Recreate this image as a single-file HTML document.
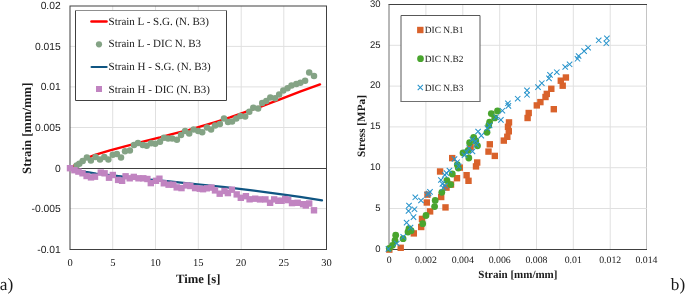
<!DOCTYPE html>
<html><head><meta charset="utf-8"><title>Strain charts</title>
<style>
html,body{margin:0;padding:0;background:#fff;width:685px;height:294px;overflow:hidden;}
svg{display:block;font-family:"Liberation Serif",serif;will-change:transform;text-rendering:geometricPrecision;}
</style></head><body>
<svg width="685" height="294" viewBox="0 0 685 294">
<rect width="685" height="294" fill="#ffffff"/>
<line x1="112.70" y1="6.0" x2="112.70" y2="249.5" stroke="#e0e0e0" stroke-width="1"/>
<line x1="155.50" y1="6.0" x2="155.50" y2="249.5" stroke="#e0e0e0" stroke-width="1"/>
<line x1="198.30" y1="6.0" x2="198.30" y2="249.5" stroke="#e0e0e0" stroke-width="1"/>
<line x1="241.20" y1="6.0" x2="241.20" y2="249.5" stroke="#e0e0e0" stroke-width="1"/>
<line x1="283.80" y1="6.0" x2="283.80" y2="249.5" stroke="#e0e0e0" stroke-width="1"/>
<line x1="70.0" y1="46.40" x2="326.5" y2="46.40" stroke="#e0e0e0" stroke-width="1"/>
<line x1="70.0" y1="86.90" x2="326.5" y2="86.90" stroke="#e0e0e0" stroke-width="1"/>
<line x1="70.0" y1="127.50" x2="326.5" y2="127.50" stroke="#e0e0e0" stroke-width="1"/>
<line x1="70.0" y1="208.60" x2="326.5" y2="208.60" stroke="#e0e0e0" stroke-width="1"/>
<line x1="70.0" y1="168.5" x2="326.5" y2="168.5" stroke="#404040" stroke-width="1"/>
<rect x="70.0" y="6.0" width="256.5" height="243.5" fill="none" stroke="#404040" stroke-width="1"/>
<polyline points="70.0,168.0 72.0,166.9 75.0,165.0 80.0,162.0 85.0,159.2 90.0,156.8 95.0,155.0 100.0,153.4 110.0,150.4 125.0,146.3 145.0,141.1 160.0,137.4 171.0,134.3 189.0,129.8 200.0,126.7 217.0,121.6 230.0,117.4 240.0,113.8 250.0,110.4 261.0,106.5 270.0,103.2 280.0,99.3 300.0,91.7 320.0,84.4" fill="none" stroke="#ff0000" stroke-width="2.4" stroke-linecap="round" stroke-linejoin="round"/>
<polyline points="70.0,168.5 75.0,169.6 80.0,170.7 86.0,171.9 96.0,173.5 110.0,175.1 123.0,176.6 150.0,179.6 167.0,181.2 181.0,182.6 200.0,184.5 225.0,187.2 250.0,190.2 280.0,194.1 300.0,196.9 322.0,200.4" fill="none" stroke="#0f5582" stroke-width="2.2" stroke-linecap="round" stroke-linejoin="round"/>
<circle cx="76.6" cy="165.5" r="3.25" fill="#84a385"/>
<circle cx="79.3" cy="163.7" r="3.25" fill="#84a385"/>
<circle cx="82.7" cy="161.1" r="3.25" fill="#84a385"/>
<circle cx="86.9" cy="157.5" r="3.25" fill="#84a385"/>
<circle cx="90.9" cy="160.5" r="3.25" fill="#84a385"/>
<circle cx="95.6" cy="157.1" r="3.25" fill="#84a385"/>
<circle cx="100.0" cy="159.5" r="3.25" fill="#84a385"/>
<circle cx="104.3" cy="156.9" r="3.25" fill="#84a385"/>
<circle cx="108.4" cy="159.4" r="3.25" fill="#84a385"/>
<circle cx="112.8" cy="154.7" r="3.25" fill="#84a385"/>
<circle cx="116.9" cy="153.9" r="3.25" fill="#84a385"/>
<circle cx="121.0" cy="157.4" r="3.25" fill="#84a385"/>
<circle cx="125.0" cy="151.3" r="3.25" fill="#84a385"/>
<circle cx="129.9" cy="150.4" r="3.25" fill="#84a385"/>
<circle cx="134.0" cy="145.0" r="3.25" fill="#84a385"/>
<circle cx="138.0" cy="143.0" r="3.25" fill="#84a385"/>
<circle cx="142.8" cy="145.0" r="3.25" fill="#84a385"/>
<circle cx="146.7" cy="145.8" r="3.25" fill="#84a385"/>
<circle cx="151.1" cy="143.2" r="3.25" fill="#84a385"/>
<circle cx="155.2" cy="143.8" r="3.25" fill="#84a385"/>
<circle cx="160.0" cy="141.8" r="3.25" fill="#84a385"/>
<circle cx="164.0" cy="137.7" r="3.25" fill="#84a385"/>
<circle cx="168.1" cy="138.4" r="3.25" fill="#84a385"/>
<circle cx="172.2" cy="138.4" r="3.25" fill="#84a385"/>
<circle cx="176.9" cy="139.8" r="3.25" fill="#84a385"/>
<circle cx="181.0" cy="135.0" r="3.25" fill="#84a385"/>
<circle cx="185.1" cy="130.9" r="3.25" fill="#84a385"/>
<circle cx="189.2" cy="133.6" r="3.25" fill="#84a385"/>
<circle cx="193.6" cy="129.6" r="3.25" fill="#84a385"/>
<circle cx="198.2" cy="130.9" r="3.25" fill="#84a385"/>
<circle cx="202.2" cy="132.2" r="3.25" fill="#84a385"/>
<circle cx="207.0" cy="127.5" r="3.25" fill="#84a385"/>
<circle cx="211.1" cy="129.5" r="3.25" fill="#84a385"/>
<circle cx="215.1" cy="125.4" r="3.25" fill="#84a385"/>
<circle cx="219.9" cy="124.1" r="3.25" fill="#84a385"/>
<circle cx="224.0" cy="118.6" r="3.25" fill="#84a385"/>
<circle cx="228.0" cy="122.0" r="3.25" fill="#84a385"/>
<circle cx="232.1" cy="121.4" r="3.25" fill="#84a385"/>
<circle cx="236.3" cy="118.6" r="3.25" fill="#84a385"/>
<circle cx="240.4" cy="115.9" r="3.25" fill="#84a385"/>
<circle cx="245.2" cy="116.6" r="3.25" fill="#84a385"/>
<circle cx="249.3" cy="111.8" r="3.25" fill="#84a385"/>
<circle cx="253.3" cy="107.7" r="3.25" fill="#84a385"/>
<circle cx="258.1" cy="108.4" r="3.25" fill="#84a385"/>
<circle cx="262.2" cy="103.0" r="3.25" fill="#84a385"/>
<circle cx="266.3" cy="100.9" r="3.25" fill="#84a385"/>
<circle cx="270.3" cy="97.5" r="3.25" fill="#84a385"/>
<circle cx="275.1" cy="98.2" r="3.25" fill="#84a385"/>
<circle cx="279.2" cy="94.6" r="3.25" fill="#84a385"/>
<circle cx="283.3" cy="90.4" r="3.25" fill="#84a385"/>
<circle cx="287.5" cy="88.2" r="3.25" fill="#84a385"/>
<circle cx="291.5" cy="85.4" r="3.25" fill="#84a385"/>
<circle cx="296.3" cy="84.1" r="3.25" fill="#84a385"/>
<circle cx="300.4" cy="82.7" r="3.25" fill="#84a385"/>
<circle cx="305.1" cy="80.7" r="3.25" fill="#84a385"/>
<circle cx="309.2" cy="72.5" r="3.25" fill="#84a385"/>
<circle cx="314.0" cy="75.9" r="3.25" fill="#84a385"/>
<rect x="66.8" y="165.0" width="6.4" height="6.4" fill="#c184c1"/>
<rect x="71.2" y="167.0" width="6.4" height="6.4" fill="#c184c1"/>
<rect x="75.2" y="168.4" width="6.4" height="6.4" fill="#c184c1"/>
<rect x="79.3" y="170.1" width="6.4" height="6.4" fill="#c184c1"/>
<rect x="83.4" y="172.8" width="6.4" height="6.4" fill="#c184c1"/>
<rect x="87.8" y="174.2" width="6.4" height="6.4" fill="#c184c1"/>
<rect x="91.8" y="173.5" width="6.4" height="6.4" fill="#c184c1"/>
<rect x="97.6" y="169.4" width="6.4" height="6.4" fill="#c184c1"/>
<rect x="101.4" y="170.1" width="6.4" height="6.4" fill="#c184c1"/>
<rect x="105.8" y="174.5" width="6.4" height="6.4" fill="#c184c1"/>
<rect x="109.6" y="171.8" width="6.4" height="6.4" fill="#c184c1"/>
<rect x="114.9" y="176.7" width="6.4" height="6.4" fill="#c184c1"/>
<rect x="118.9" y="177.6" width="6.4" height="6.4" fill="#c184c1"/>
<rect x="122.4" y="173.1" width="6.4" height="6.4" fill="#c184c1"/>
<rect x="126.5" y="175.1" width="6.4" height="6.4" fill="#c184c1"/>
<rect x="130.6" y="173.7" width="6.4" height="6.4" fill="#c184c1"/>
<rect x="135.3" y="175.1" width="6.4" height="6.4" fill="#c184c1"/>
<rect x="140.1" y="175.1" width="6.4" height="6.4" fill="#c184c1"/>
<rect x="144.2" y="175.8" width="6.4" height="6.4" fill="#c184c1"/>
<rect x="147.6" y="179.9" width="6.4" height="6.4" fill="#c184c1"/>
<rect x="152.8" y="177.6" width="6.4" height="6.4" fill="#c184c1"/>
<rect x="156.2" y="175.5" width="6.4" height="6.4" fill="#c184c1"/>
<rect x="160.6" y="180.1" width="6.4" height="6.4" fill="#c184c1"/>
<rect x="165.4" y="181.5" width="6.4" height="6.4" fill="#c184c1"/>
<rect x="170.1" y="181.5" width="6.4" height="6.4" fill="#c184c1"/>
<rect x="173.5" y="184.2" width="6.4" height="6.4" fill="#c184c1"/>
<rect x="178.3" y="184.9" width="6.4" height="6.4" fill="#c184c1"/>
<rect x="183.1" y="182.2" width="6.4" height="6.4" fill="#c184c1"/>
<rect x="187.1" y="182.8" width="6.4" height="6.4" fill="#c184c1"/>
<rect x="191.9" y="184.9" width="6.4" height="6.4" fill="#c184c1"/>
<rect x="196.6" y="185.5" width="6.4" height="6.4" fill="#c184c1"/>
<rect x="199.8" y="186.0" width="6.4" height="6.4" fill="#c184c1"/>
<rect x="203.6" y="185.1" width="6.4" height="6.4" fill="#c184c1"/>
<rect x="208.3" y="184.4" width="6.4" height="6.4" fill="#c184c1"/>
<rect x="211.8" y="187.2" width="6.4" height="6.4" fill="#c184c1"/>
<rect x="216.5" y="190.5" width="6.4" height="6.4" fill="#c184c1"/>
<rect x="221.3" y="187.8" width="6.4" height="6.4" fill="#c184c1"/>
<rect x="224.7" y="189.9" width="6.4" height="6.4" fill="#c184c1"/>
<rect x="228.7" y="186.5" width="6.4" height="6.4" fill="#c184c1"/>
<rect x="233.5" y="191.2" width="6.4" height="6.4" fill="#c184c1"/>
<rect x="237.6" y="194.6" width="6.4" height="6.4" fill="#c184c1"/>
<rect x="242.7" y="193.0" width="6.4" height="6.4" fill="#c184c1"/>
<rect x="246.4" y="196.1" width="6.4" height="6.4" fill="#c184c1"/>
<rect x="252.0" y="195.5" width="6.4" height="6.4" fill="#c184c1"/>
<rect x="256.8" y="196.2" width="6.4" height="6.4" fill="#c184c1"/>
<rect x="262.2" y="196.2" width="6.4" height="6.4" fill="#c184c1"/>
<rect x="266.9" y="199.6" width="6.4" height="6.4" fill="#c184c1"/>
<rect x="271.0" y="196.2" width="6.4" height="6.4" fill="#c184c1"/>
<rect x="275.1" y="197.6" width="6.4" height="6.4" fill="#c184c1"/>
<rect x="278.4" y="197.6" width="6.4" height="6.4" fill="#c184c1"/>
<rect x="282.0" y="195.9" width="6.4" height="6.4" fill="#c184c1"/>
<rect x="285.0" y="196.9" width="6.4" height="6.4" fill="#c184c1"/>
<rect x="288.8" y="199.9" width="6.4" height="6.4" fill="#c184c1"/>
<rect x="294.5" y="199.6" width="6.4" height="6.4" fill="#c184c1"/>
<rect x="299.9" y="201.0" width="6.4" height="6.4" fill="#c184c1"/>
<rect x="302.6" y="202.3" width="6.4" height="6.4" fill="#c184c1"/>
<rect x="306.0" y="200.3" width="6.4" height="6.4" fill="#c184c1"/>
<rect x="310.8" y="207.1" width="6.4" height="6.4" fill="#c184c1"/>
<rect x="75.5" y="10.5" width="151" height="90" fill="#ffffff"/>
<path d="M75.5 10.5V100.5H226.5V10.5" fill="none" stroke="#404040" stroke-width="1"/>
<line x1="75" y1="10.5" x2="227" y2="10.5" stroke="#8f8f8f" stroke-width="1"/>
<line x1="91.5" y1="21.5" x2="106.5" y2="21.5" stroke="#ff0000" stroke-width="2.6" stroke-linecap="round"/>
<circle cx="99" cy="44.3" r="3.1" fill="#84a385"/>
<line x1="91.6" y1="67.0" x2="106.6" y2="67.0" stroke="#0f5582" stroke-width="2.2" stroke-linecap="round"/>
<rect x="96" y="86" width="6" height="6" fill="#c184c1"/>
<text x="108.6" y="24.9" font-family="Liberation Serif, serif" font-size="11" fill="#1a1a1a">Strain L - S.G. (N. B3)</text>
<text x="108.6" y="47.4" font-family="Liberation Serif, serif" font-size="11" fill="#1a1a1a">Strain L - DIC N. B3</text>
<text x="108.6" y="69.9" font-family="Liberation Serif, serif" font-size="11" fill="#1a1a1a">Strain H - S.G. (N. B3)</text>
<text x="108.6" y="92.9" font-family="Liberation Serif, serif" font-size="11" fill="#1a1a1a">Strain H - DIC (N. B3)</text>
<text x="60.7" y="9.10" font-family="Liberation Sans, sans-serif" font-size="10.3" text-anchor="end" fill="#1a1a1a">0.02</text>
<text x="60.7" y="49.73" font-family="Liberation Sans, sans-serif" font-size="10.3" text-anchor="end" fill="#1a1a1a">0.015</text>
<text x="60.7" y="90.35" font-family="Liberation Sans, sans-serif" font-size="10.3" text-anchor="end" fill="#1a1a1a">0.01</text>
<text x="60.7" y="130.97" font-family="Liberation Sans, sans-serif" font-size="10.3" text-anchor="end" fill="#1a1a1a">0.005</text>
<text x="60.7" y="171.60" font-family="Liberation Sans, sans-serif" font-size="10.3" text-anchor="end" fill="#1a1a1a">0</text>
<text x="60.7" y="212.22" font-family="Liberation Sans, sans-serif" font-size="10.3" text-anchor="end" fill="#1a1a1a">-0.005</text>
<text x="60.7" y="252.85" font-family="Liberation Sans, sans-serif" font-size="10.3" text-anchor="end" fill="#1a1a1a">-0.01</text>
<text x="70.00" y="265.7" font-family="Liberation Serif, serif" font-size="10.5" text-anchor="middle" fill="#1a1a1a">0</text>
<text x="112.75" y="265.7" font-family="Liberation Serif, serif" font-size="10.5" text-anchor="middle" fill="#1a1a1a">5</text>
<text x="155.50" y="265.7" font-family="Liberation Serif, serif" font-size="10.5" text-anchor="middle" fill="#1a1a1a">10</text>
<text x="198.25" y="265.7" font-family="Liberation Serif, serif" font-size="10.5" text-anchor="middle" fill="#1a1a1a">15</text>
<text x="241.00" y="265.7" font-family="Liberation Serif, serif" font-size="10.5" text-anchor="middle" fill="#1a1a1a">20</text>
<text x="283.75" y="265.7" font-family="Liberation Serif, serif" font-size="10.5" text-anchor="middle" fill="#1a1a1a">25</text>
<text x="326.50" y="265.7" font-family="Liberation Serif, serif" font-size="10.5" text-anchor="middle" fill="#1a1a1a">30</text>
<text x="198.2" y="282.5" font-family="Liberation Serif, serif" font-size="12.7" font-weight="bold" text-anchor="middle" fill="#1a1a1a">Time [s]</text>
<text transform="translate(31 128.25) rotate(-90)" x="0" y="0" font-family="Liberation Serif, serif" font-size="12.7" font-weight="bold" text-anchor="middle" fill="#1a1a1a">Strain [mm/mm]</text>
<line x1="425.90" y1="4.5" x2="425.90" y2="249.5" stroke="#e0e0e0" stroke-width="1"/>
<line x1="462.80" y1="4.5" x2="462.80" y2="249.5" stroke="#e0e0e0" stroke-width="1"/>
<line x1="499.70" y1="4.5" x2="499.70" y2="249.5" stroke="#e0e0e0" stroke-width="1"/>
<line x1="536.50" y1="4.5" x2="536.50" y2="249.5" stroke="#e0e0e0" stroke-width="1"/>
<line x1="573.30" y1="4.5" x2="573.30" y2="249.5" stroke="#e0e0e0" stroke-width="1"/>
<line x1="610.20" y1="4.5" x2="610.20" y2="249.5" stroke="#e0e0e0" stroke-width="1"/>
<line x1="646.50" y1="4.5" x2="646.50" y2="249.5" stroke="#c4c4c4" stroke-width="1"/>
<line x1="389.4" y1="208.50" x2="646.7" y2="208.50" stroke="#e0e0e0" stroke-width="1"/>
<line x1="389.4" y1="167.70" x2="646.7" y2="167.70" stroke="#e0e0e0" stroke-width="1"/>
<line x1="389.4" y1="126.90" x2="646.7" y2="126.90" stroke="#e0e0e0" stroke-width="1"/>
<line x1="389.4" y1="86.10" x2="646.7" y2="86.10" stroke="#e0e0e0" stroke-width="1"/>
<line x1="389.4" y1="45.30" x2="646.7" y2="45.30" stroke="#e0e0e0" stroke-width="1"/>
<line x1="388.5" y1="4.5" x2="647" y2="4.5" stroke="#404040" stroke-width="1"/>
<line x1="389.0" y1="4.5" x2="389.0" y2="249.5" stroke="#707070" stroke-width="1"/>
<line x1="388.5" y1="249.5" x2="647" y2="249.5" stroke="#404040" stroke-width="1"/>
<rect x="386.1" y="246.4" width="6.4" height="6.4" fill="#d9622b"/>
<rect x="397.5" y="244.6" width="6.4" height="6.4" fill="#d9622b"/>
<rect x="410.6" y="230.2" width="6.4" height="6.4" fill="#d9622b"/>
<rect x="418.0" y="223.8" width="6.4" height="6.4" fill="#d9622b"/>
<rect x="418.8" y="215.7" width="6.4" height="6.4" fill="#d9622b"/>
<rect x="426.9" y="208.2" width="6.4" height="6.4" fill="#d9622b"/>
<rect x="423.6" y="199.3" width="6.4" height="6.4" fill="#d9622b"/>
<rect x="424.3" y="191.4" width="6.4" height="6.4" fill="#d9622b"/>
<rect x="438.0" y="193.8" width="6.4" height="6.4" fill="#d9622b"/>
<rect x="442.3" y="204.2" width="6.4" height="6.4" fill="#d9622b"/>
<rect x="436.9" y="168.3" width="6.4" height="6.4" fill="#d9622b"/>
<rect x="443.3" y="184.4" width="6.4" height="6.4" fill="#d9622b"/>
<rect x="447.8" y="181.4" width="6.4" height="6.4" fill="#d9622b"/>
<rect x="449.0" y="154.9" width="6.4" height="6.4" fill="#d9622b"/>
<rect x="453.8" y="175.0" width="6.4" height="6.4" fill="#d9622b"/>
<rect x="463.4" y="172.0" width="6.4" height="6.4" fill="#d9622b"/>
<rect x="465.3" y="177.6" width="6.4" height="6.4" fill="#d9622b"/>
<rect x="474.0" y="159.3" width="6.4" height="6.4" fill="#d9622b"/>
<rect x="472.8" y="163.2" width="6.4" height="6.4" fill="#d9622b"/>
<rect x="467.4" y="144.0" width="6.4" height="6.4" fill="#d9622b"/>
<rect x="456.6" y="164.4" width="6.4" height="6.4" fill="#d9622b"/>
<rect x="486.6" y="141.1" width="6.4" height="6.4" fill="#d9622b"/>
<rect x="485.3" y="148.4" width="6.4" height="6.4" fill="#d9622b"/>
<rect x="491.6" y="152.7" width="6.4" height="6.4" fill="#d9622b"/>
<rect x="505.8" y="119.2" width="6.4" height="6.4" fill="#d9622b"/>
<rect x="504.8" y="123.6" width="6.4" height="6.4" fill="#d9622b"/>
<rect x="505.6" y="128.1" width="6.4" height="6.4" fill="#d9622b"/>
<rect x="504.1" y="133.6" width="6.4" height="6.4" fill="#d9622b"/>
<rect x="500.6" y="137.4" width="6.4" height="6.4" fill="#d9622b"/>
<rect x="525.5" y="109.8" width="6.4" height="6.4" fill="#d9622b"/>
<rect x="524.4" y="114.8" width="6.4" height="6.4" fill="#d9622b"/>
<rect x="533.6" y="102.2" width="6.4" height="6.4" fill="#d9622b"/>
<rect x="537.2" y="98.9" width="6.4" height="6.4" fill="#d9622b"/>
<rect x="542.3" y="93.8" width="6.4" height="6.4" fill="#d9622b"/>
<rect x="543.6" y="90.7" width="6.4" height="6.4" fill="#d9622b"/>
<rect x="548.1" y="85.6" width="6.4" height="6.4" fill="#d9622b"/>
<rect x="559.5" y="82.5" width="6.4" height="6.4" fill="#d9622b"/>
<rect x="557.6" y="77.5" width="6.4" height="6.4" fill="#d9622b"/>
<rect x="562.7" y="74.3" width="6.4" height="6.4" fill="#d9622b"/>
<rect x="550.6" y="106.0" width="6.4" height="6.4" fill="#d9622b"/>
<circle cx="389.3" cy="248.3" r="3.4" fill="#49a52e"/>
<circle cx="392.5" cy="245.3" r="3.4" fill="#49a52e"/>
<circle cx="395.0" cy="240.5" r="3.4" fill="#49a52e"/>
<circle cx="395.7" cy="235.2" r="3.4" fill="#49a52e"/>
<circle cx="403.1" cy="238.7" r="3.4" fill="#49a52e"/>
<circle cx="408.0" cy="232.0" r="3.4" fill="#49a52e"/>
<circle cx="409.0" cy="228.6" r="3.4" fill="#49a52e"/>
<circle cx="411.1" cy="230.7" r="3.4" fill="#49a52e"/>
<circle cx="422.7" cy="223.7" r="3.4" fill="#49a52e"/>
<circle cx="426.0" cy="215.5" r="3.4" fill="#49a52e"/>
<circle cx="434.6" cy="206.6" r="3.4" fill="#49a52e"/>
<circle cx="435.2" cy="200.4" r="3.4" fill="#49a52e"/>
<circle cx="441.8" cy="192.3" r="3.4" fill="#49a52e"/>
<circle cx="446.9" cy="180.5" r="3.4" fill="#49a52e"/>
<circle cx="450.7" cy="184.6" r="3.4" fill="#49a52e"/>
<circle cx="452.3" cy="174.0" r="3.4" fill="#49a52e"/>
<circle cx="457.3" cy="164.7" r="3.4" fill="#49a52e"/>
<circle cx="458.3" cy="168.0" r="3.4" fill="#49a52e"/>
<circle cx="463.0" cy="153.0" r="3.4" fill="#49a52e"/>
<circle cx="468.8" cy="158.0" r="3.4" fill="#49a52e"/>
<circle cx="468.2" cy="150.3" r="3.4" fill="#49a52e"/>
<circle cx="469.6" cy="142.7" r="3.4" fill="#49a52e"/>
<circle cx="473.7" cy="137.3" r="3.4" fill="#49a52e"/>
<circle cx="475.8" cy="141.0" r="3.4" fill="#49a52e"/>
<circle cx="477.5" cy="145.8" r="3.4" fill="#49a52e"/>
<circle cx="487.0" cy="132.3" r="3.4" fill="#49a52e"/>
<circle cx="488.7" cy="125.5" r="3.4" fill="#49a52e"/>
<circle cx="489.6" cy="122.1" r="3.4" fill="#49a52e"/>
<circle cx="494.7" cy="117.9" r="3.4" fill="#49a52e"/>
<circle cx="491.3" cy="113.6" r="3.4" fill="#49a52e"/>
<circle cx="497.5" cy="111.0" r="3.4" fill="#49a52e"/>
<path d="M385.7 246.3L391.1 251.7M385.7 251.7L391.1 246.3" stroke="#2793cb" stroke-width="1.05" fill="none"/>
<path d="M394.1 240.8L399.5 246.2M394.1 246.2L399.5 240.8" stroke="#2793cb" stroke-width="1.05" fill="none"/>
<path d="M400.5 234.2L405.9 239.6M400.5 239.6L405.9 234.2" stroke="#2793cb" stroke-width="1.05" fill="none"/>
<path d="M407.8 224.9L413.2 230.3M407.8 230.3L413.2 224.9" stroke="#2793cb" stroke-width="1.05" fill="none"/>
<path d="M403.9 219.9L409.3 225.3M403.9 225.3L409.3 219.9" stroke="#2793cb" stroke-width="1.05" fill="none"/>
<path d="M410.8 214.4L416.2 219.8M410.8 219.8L416.2 214.4" stroke="#2793cb" stroke-width="1.05" fill="none"/>
<path d="M405.8 208.3L411.2 213.7M405.8 213.7L411.2 208.3" stroke="#2793cb" stroke-width="1.05" fill="none"/>
<path d="M411.8 206.5L417.2 211.9M411.8 211.9L417.2 206.5" stroke="#2793cb" stroke-width="1.05" fill="none"/>
<path d="M406.3 202.8L411.7 208.2M406.3 208.2L411.7 202.8" stroke="#2793cb" stroke-width="1.05" fill="none"/>
<path d="M412.6 194.6L418.0 200.0M412.6 200.0L418.0 194.6" stroke="#2793cb" stroke-width="1.05" fill="none"/>
<path d="M418.3 197.8L423.7 203.2M418.3 203.2L423.7 197.8" stroke="#2793cb" stroke-width="1.05" fill="none"/>
<path d="M425.9 190.8L431.3 196.2M425.9 196.2L431.3 190.8" stroke="#2793cb" stroke-width="1.05" fill="none"/>
<path d="M427.3 189.2L432.7 194.6M427.3 194.6L432.7 189.2" stroke="#2793cb" stroke-width="1.05" fill="none"/>
<path d="M424.5 192.1L429.9 197.5M424.5 197.5L429.9 192.1" stroke="#2793cb" stroke-width="1.05" fill="none"/>
<path d="M438.2 177.3L443.6 182.7M438.2 182.7L443.6 177.3" stroke="#2793cb" stroke-width="1.05" fill="none"/>
<path d="M442.1 172.3L447.5 177.7M442.1 177.7L447.5 172.3" stroke="#2793cb" stroke-width="1.05" fill="none"/>
<path d="M439.7 181.2L445.1 186.6M439.7 186.6L445.1 181.2" stroke="#2793cb" stroke-width="1.05" fill="none"/>
<path d="M443.8 170.4L449.2 175.8M443.8 175.8L449.2 170.4" stroke="#2793cb" stroke-width="1.05" fill="none"/>
<path d="M446.7 167.8L452.1 173.2M446.7 173.2L452.1 167.8" stroke="#2793cb" stroke-width="1.05" fill="none"/>
<path d="M442.3 182.9L447.7 188.3M442.3 188.3L447.7 182.9" stroke="#2793cb" stroke-width="1.05" fill="none"/>
<path d="M440.6 185.1L446.0 190.5M440.6 190.5L446.0 185.1" stroke="#2793cb" stroke-width="1.05" fill="none"/>
<path d="M451.8 156.3L457.2 161.7M451.8 161.7L457.2 156.3" stroke="#2793cb" stroke-width="1.05" fill="none"/>
<path d="M456.0 163.7L461.4 169.1M456.0 169.1L461.4 163.7" stroke="#2793cb" stroke-width="1.05" fill="none"/>
<path d="M454.4 159.5L459.8 164.9M454.4 164.9L459.8 159.5" stroke="#2793cb" stroke-width="1.05" fill="none"/>
<path d="M463.9 149.5L469.3 154.9M463.9 154.9L469.3 149.5" stroke="#2793cb" stroke-width="1.05" fill="none"/>
<path d="M469.8 148.7L475.2 154.1M469.8 154.1L475.2 148.7" stroke="#2793cb" stroke-width="1.05" fill="none"/>
<path d="M461.8 152.4L467.2 157.8M461.8 157.8L467.2 152.4" stroke="#2793cb" stroke-width="1.05" fill="none"/>
<path d="M466.4 145.5L471.8 150.9M466.4 150.9L471.8 145.5" stroke="#2793cb" stroke-width="1.05" fill="none"/>
<path d="M469.7 136.8L475.1 142.2M469.7 142.2L475.1 136.8" stroke="#2793cb" stroke-width="1.05" fill="none"/>
<path d="M473.6 142.0L479.0 147.4M473.6 147.4L479.0 142.0" stroke="#2793cb" stroke-width="1.05" fill="none"/>
<path d="M473.0 138.5L478.4 143.9M473.0 143.9L478.4 138.5" stroke="#2793cb" stroke-width="1.05" fill="none"/>
<path d="M475.4 128.8L480.8 134.2M475.4 134.2L480.8 128.8" stroke="#2793cb" stroke-width="1.05" fill="none"/>
<path d="M478.6 132.9L484.0 138.3M478.6 138.3L484.0 132.9" stroke="#2793cb" stroke-width="1.05" fill="none"/>
<path d="M484.6 125.5L490.0 130.9M484.6 130.9L490.0 125.5" stroke="#2793cb" stroke-width="1.05" fill="none"/>
<path d="M486.9 122.8L492.3 128.2M486.9 128.2L492.3 122.8" stroke="#2793cb" stroke-width="1.05" fill="none"/>
<path d="M493.4 114.5L498.8 119.9M493.4 119.9L498.8 114.5" stroke="#2793cb" stroke-width="1.05" fill="none"/>
<path d="M498.2 117.2L503.6 122.6M498.2 122.6L503.6 117.2" stroke="#2793cb" stroke-width="1.05" fill="none"/>
<path d="M499.7 108.0L505.1 113.4M499.7 113.4L505.1 108.0" stroke="#2793cb" stroke-width="1.05" fill="none"/>
<path d="M505.2 100.6L510.6 106.0M505.2 106.0L510.6 100.6" stroke="#2793cb" stroke-width="1.05" fill="none"/>
<path d="M505.7 103.2L511.1 108.6M505.7 108.6L511.1 103.2" stroke="#2793cb" stroke-width="1.05" fill="none"/>
<path d="M515.0 96.0L520.4 101.4M515.0 101.4L520.4 96.0" stroke="#2793cb" stroke-width="1.05" fill="none"/>
<path d="M524.3 87.7L529.7 93.1M524.3 93.1L529.7 87.7" stroke="#2793cb" stroke-width="1.05" fill="none"/>
<path d="M524.3 92.1L529.7 97.5M524.3 97.5L529.7 92.1" stroke="#2793cb" stroke-width="1.05" fill="none"/>
<path d="M535.3 84.4L540.7 89.8M535.3 89.8L540.7 84.4" stroke="#2793cb" stroke-width="1.05" fill="none"/>
<path d="M539.1 80.5L544.5 85.9M539.1 85.9L544.5 80.5" stroke="#2793cb" stroke-width="1.05" fill="none"/>
<path d="M546.3 75.7L551.7 81.1M546.3 81.1L551.7 75.7" stroke="#2793cb" stroke-width="1.05" fill="none"/>
<path d="M547.3 72.2L552.7 77.6M547.3 77.6L552.7 72.2" stroke="#2793cb" stroke-width="1.05" fill="none"/>
<path d="M554.1 69.5L559.5 74.9M554.1 74.9L559.5 69.5" stroke="#2793cb" stroke-width="1.05" fill="none"/>
<path d="M562.5 64.3L567.9 69.7M562.5 69.7L567.9 64.3" stroke="#2793cb" stroke-width="1.05" fill="none"/>
<path d="M566.9 61.6L572.3 67.0M566.9 67.0L572.3 61.6" stroke="#2793cb" stroke-width="1.05" fill="none"/>
<path d="M574.8 56.1L580.2 61.5M574.8 61.5L580.2 56.1" stroke="#2793cb" stroke-width="1.05" fill="none"/>
<path d="M575.9 53.3L581.3 58.7M575.9 58.7L581.3 53.3" stroke="#2793cb" stroke-width="1.05" fill="none"/>
<path d="M581.4 48.4L586.8 53.8M581.4 53.8L586.8 48.4" stroke="#2793cb" stroke-width="1.05" fill="none"/>
<path d="M585.4 45.0L590.8 50.4M585.4 50.4L590.8 45.0" stroke="#2793cb" stroke-width="1.05" fill="none"/>
<path d="M596.0 37.6L601.4 43.0M596.0 43.0L601.4 37.6" stroke="#2793cb" stroke-width="1.05" fill="none"/>
<path d="M604.2 35.6L609.6 41.0M604.2 41.0L609.6 35.6" stroke="#2793cb" stroke-width="1.05" fill="none"/>
<path d="M603.6 40.6L609.0 46.0M603.6 46.0L609.0 40.6" stroke="#2793cb" stroke-width="1.05" fill="none"/>
<rect x="401" y="15.5" width="79" height="86" fill="#ffffff"/>
<path d="M401 101.5V15.5H480V101.5" fill="none" stroke="#585858" stroke-width="1"/>
<line x1="400.5" y1="101.5" x2="480.5" y2="101.5" stroke="#707070" stroke-width="1"/>
<rect x="417.1" y="26.8" width="6.4" height="6.4" fill="#d9622b"/>
<circle cx="420.5" cy="58.7" r="3.35" fill="#49a52e"/>
<path d="M417.7 84.8L422.9 90.1M417.7 90.1L422.9 84.8" stroke="#2793cb" stroke-width="1.05" fill="none"/>
<text x="424.7" y="33.2" font-family="Liberation Serif, serif" font-size="9.45" fill="#1a1a1a">DIC N.B1</text>
<text x="424.7" y="61.9" font-family="Liberation Serif, serif" font-size="9.45" fill="#1a1a1a">DIC N.B2</text>
<text x="424.7" y="90.6" font-family="Liberation Serif, serif" font-size="9.45" fill="#1a1a1a">DIC N.B3</text>
<text x="380.5" y="251.60" font-family="Liberation Sans, sans-serif" font-size="9.5" text-anchor="end" fill="#1a1a1a">0</text>
<text x="380.5" y="210.80" font-family="Liberation Sans, sans-serif" font-size="9.5" text-anchor="end" fill="#1a1a1a">5</text>
<text x="380.5" y="170.00" font-family="Liberation Sans, sans-serif" font-size="9.5" text-anchor="end" fill="#1a1a1a">10</text>
<text x="380.5" y="129.20" font-family="Liberation Sans, sans-serif" font-size="9.5" text-anchor="end" fill="#1a1a1a">15</text>
<text x="380.5" y="88.40" font-family="Liberation Sans, sans-serif" font-size="9.5" text-anchor="end" fill="#1a1a1a">20</text>
<text x="380.5" y="47.60" font-family="Liberation Sans, sans-serif" font-size="9.5" text-anchor="end" fill="#1a1a1a">25</text>
<text x="380.5" y="6.80" font-family="Liberation Sans, sans-serif" font-size="9.5" text-anchor="end" fill="#1a1a1a">30</text>
<text x="389.20" y="262.9" font-family="Liberation Serif, serif" font-size="9.8" text-anchor="middle" fill="#1a1a1a">0</text>
<text x="425.90" y="262.9" font-family="Liberation Serif, serif" font-size="9.8" text-anchor="middle" fill="#1a1a1a">0.002</text>
<text x="462.80" y="262.9" font-family="Liberation Serif, serif" font-size="9.8" text-anchor="middle" fill="#1a1a1a">0.004</text>
<text x="499.70" y="262.9" font-family="Liberation Serif, serif" font-size="9.8" text-anchor="middle" fill="#1a1a1a">0.006</text>
<text x="536.50" y="262.9" font-family="Liberation Serif, serif" font-size="9.8" text-anchor="middle" fill="#1a1a1a">0.008</text>
<text x="573.30" y="262.9" font-family="Liberation Serif, serif" font-size="9.8" text-anchor="middle" fill="#1a1a1a">0.01</text>
<text x="610.20" y="262.9" font-family="Liberation Serif, serif" font-size="9.8" text-anchor="middle" fill="#1a1a1a">0.012</text>
<text x="646.50" y="262.9" font-family="Liberation Serif, serif" font-size="9.8" text-anchor="middle" fill="#1a1a1a">0.014</text>
<text x="517.9" y="278.1" font-family="Liberation Serif, serif" font-size="11" font-weight="bold" text-anchor="middle" fill="#1a1a1a">Strain [mm/mm]</text>
<text transform="translate(364.8 126) rotate(-90)" x="0" y="0" font-family="Liberation Serif, serif" font-size="11.25" font-weight="bold" text-anchor="middle" fill="#1a1a1a">Stress [MPa]</text>
<text x="-0.3" y="289.6" font-family="Liberation Serif, serif" font-size="17.4" fill="#1a1a1a">a)</text>
<text x="685.2" y="289.7" font-family="Liberation Serif, serif" font-size="17.2" text-anchor="end" fill="#1a1a1a">b)</text>
</svg>
</body></html>
